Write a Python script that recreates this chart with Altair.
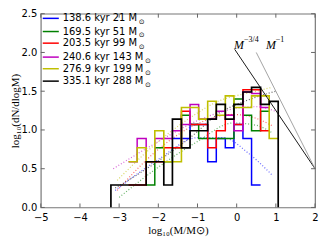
import altair as alt
import pandas as pd

# ---------------- data ----------------
edges = [-3.21, -2.99, -2.76, -2.54, -2.31, -2.09, -1.86, -1.64, -1.41, -1.19,
         -0.97, -0.74, -0.52, -0.29, -0.07, 0.16, 0.38, 0.61, 0.83, 1.06]

N = None
series = ["138.6 kyr 21 M", "169.5 kyr 51 M", "203.5 kyr 99 M",
          "240.6 kyr 143 M", "276.9 kyr 199 M", "335.1 kyr 288 M"]
colors = ["#0000ff", "#008000", "#ff0000", "#bf00bf", "#bfbf00", "#000000"]
widths = [1.5, 1.5, 1.5, 1.5, 1.6, 1.7]

blue = [N, N, N, N, N, N, N, 0.89, 0.89, 1.07, 1.07, 0.59, 0.89, 0.77, 1.07, 0.89, 0.29, N, N]
green = [N, N, N, N, 0.29, 0.77, 0.59, 0.77, 1.19, 1.07, 0.89, 0.89, 0.89, 0.89, 1.40, 1.19, 0.99, 1.24, N]
red = [N, N, 0.29, 0.29, 0.59, 0.59, 0.77, 0.77, 1.24, 1.07, 1.07, 0.77, 0.99, 1.19, 1.07, 1.52, 1.52, 0.99, N]
magenta = [N, N, 0.59, 0.89, 0.59, 0.89, 0.89, 0.99, 1.07, 1.33, 1.14, 1.14, 1.24, 1.19, 0.99, 1.49, 1.47, 1.29, N]
yellow = [N, N, 0.59, 0.77, 0.59, 0.99, 0.59, 0.59, 1.29, 1.29, 1.14, 1.37, 1.19, 1.44, 1.29, 1.29, 1.44, 1.44, 0.89]
black = [0.29, 0.29, 0.29, 0.29, 0.59, 0.59, 0.29, 1.14, 0.77, 0.99, 0.99, 1.14, 1.33, 1.14, 1.33, 1.49, 1.55, 1.33, 1.37]
hists = [blue, green, red, magenta, yellow, black]

fit_x = [
    [-3.10, -2.00, -1.00, -0.34, 0.30, 0.92],
    [-3.00, -2.00, -1.00, -0.09, 0.50, 0.92],
    [-3.05, -2.00, -1.00, -0.09, 0.50, 0.92],
    [-3.15, -2.00, -1.00, 0.00, 0.50, 1.00],
    [-3.05, -2.00, -1.00, -0.60, 0.50, 0.90],
    [-3.10, -2.00, -1.00, -0.60, 0.42, 1.00],
]
fit_y = [
    [0.22, 0.62, 0.90, 0.90, 0.70, 0.41],
    [0.13, 0.52, 0.85, 1.09, 1.06, 0.96],
    [0.22, 0.75, 1.08, 1.20, 1.15, 1.05],
    [0.50, 0.85, 1.12, 1.28, 1.30, 1.24],
    [0.35, 0.85, 1.22, 1.34, 1.50, 1.55],
    [0.25, 0.60, 0.98, 1.16, 1.41, 1.50],
]

pl34_x = [-0.05, 2.0]
pl34_y = [2.04, 0.50]
pl1_x = [0.50, 2.0]
pl1_y = [2.00, 0.50]

x_ticks = [-5, -4, -3, -2, -1, 0, 1, 2]
y_ticks = [0.0, 0.5, 1.0, 1.5, 2.0, 2.5]

legend_v = [2.44, 2.27, 2.12, 1.94, 1.79, 1.63]
legend_sun_m = [-2.50, -2.50, -2.50, -2.34, -2.34, -2.34]

# ---------------- build tables ----------------
rows = []
for s, vals in zip(series, hists):
    i = 0
    is_black = s.startswith("335")
    if is_black:
        rows.append(dict(s=s, m=edges[0], v=0.0, i=i)); i += 1
    for k, val in enumerate(vals):
        if val is None:
            continue
        rows.append(dict(s=s, m=edges[k], v=val, i=i)); i += 1
        if k + 1 == len(vals) or vals[k + 1] is None:
            rows.append(dict(s=s, m=edges[k + 1], v=val, i=i)); i += 1
            if is_black and k + 1 == len(vals):
                rows.append(dict(s=s, m=edges[k + 1], v=0.0, i=i)); i += 1
            rows.append(dict(s=s, m=edges[k + 1], v=None, i=i)); i += 1
hist_df = pd.DataFrame(rows)

fit_rows = []
for s, xs, ys in zip(series, fit_x, fit_y):
    for j, (a, b) in enumerate(zip(xs, ys)):
        fit_rows.append(dict(s=s, m=a, v=b, i=j))
fit_df = pd.DataFrame(fit_rows)

pl_df = pd.DataFrame(
    [dict(s="34", m=a, v=b) for a, b in zip(pl34_x, pl34_y)]
    + [dict(s="1", m=a, v=b) for a, b in zip(pl1_x, pl1_y)]
)

leg_df = pd.DataFrame(dict(s=series, v=legend_v, m=[-4.95] * 6, m2=[-4.54] * 6,
                           mt=[-4.44] * 6, ms=legend_sun_m))

xt_df = pd.DataFrame(dict(m=x_ticks))
yt_df = pd.DataFrame(dict(v=y_ticks))

# ---------------- encodings ----------------
xscale = alt.Scale(domain=[-5, 2], nice=False, zero=False)
yscale = alt.Scale(domain=[0, 2.5], nice=False, zero=False)
xaxis = alt.Axis(values=x_ticks, format="d", tickSize=0, domain=False, grid=False,
                 labelFont="DejaVu Sans", labelFontSize=10, labelColor="black",
                 labelPadding=5, labelFlush=False, labelOverlap=False,
                 title="log₁₀(M/M⊙)", titleFont="Liberation Serif", titleFontSize=11,
                 titleFontWeight="normal", titleColor="black", titlePadding=2)
yaxis = alt.Axis(values=y_ticks, format=".1f", tickSize=0, domain=False, grid=False,
                 labelFont="DejaVu Sans", labelFontSize=10, labelColor="black",
                 labelPadding=4, labelFlush=False, labelOverlap=False,
                 title="log₁₀(dN/dlogM)", titleFont="Liberation Serif", titleFontSize=11,
                 titleFontWeight="normal", titleColor="black", titlePadding=1)

X = alt.X("m:Q", scale=xscale, axis=xaxis)
Y = alt.Y("v:Q", scale=yscale, axis=yaxis)
cscale = alt.Scale(domain=series, range=colors)
C = alt.Color("s:N", scale=cscale, legend=None)

fits = alt.Chart(fit_df).mark_line(interpolate="monotone", strokeDash=[1, 2],
                                   strokeWidth=1.2, opacity=0.6, clip=True).encode(
    x=X, y=Y, color=C, detail="s:N", order="i:Q")

hist_layers = []
for s, w in zip(series, widths):
    hist_layers.append(
        alt.Chart(hist_df[hist_df.s == s]).mark_line(
            interpolate="step-after", strokeWidth=w, clip=True).encode(
            x=X, y=Y, color=C, order="i:Q"))

pl34 = alt.Chart(pl_df[pl_df.s == "34"]).mark_line(color="black", strokeWidth=0.9).encode(x=X, y=Y)
pl1 = alt.Chart(pl_df[pl_df.s == "1"]).mark_line(color="#999999", strokeWidth=0.9).encode(x=X, y=Y)

lab_df = pd.DataFrame(dict(m=[-0.07, 0.75], v=[2.04, 2.04], t=["M", "M"]))
sup_df = pd.DataFrame(dict(m=[0.19, 1.0], v=[2.13, 2.13], t=["−3/4", "−1"]))
labs = alt.Chart(lab_df).mark_text(font="Liberation Serif", fontStyle="italic", fontSize=12,
                                   align="left", baseline="alphabetic", color="black").encode(
    x=X, y=Y, text="t:N")
sups = alt.Chart(sup_df).mark_text(font="Liberation Serif", fontSize=8,
                                   align="left", baseline="alphabetic", color="black").encode(
    x=X, y=Y, text="t:N")

leg_lines = alt.Chart(leg_df).mark_rule(strokeWidth=1.5).encode(
    x=X, x2="m2:Q", y=Y, color=C)
leg_text = alt.Chart(leg_df).mark_text(font="DejaVu Sans", fontSize=10, align="left",
                                       baseline="middle", color="black").encode(
    x=alt.X("mt:Q", scale=xscale, axis=xaxis), y=Y, text="s:N")
leg_sun = alt.Chart(leg_df).mark_text(font="DejaVu Sans", fontSize=7, align="left",
                                      baseline="middle", dy=4, color="black").encode(
    x=alt.X("ms:Q", scale=xscale, axis=xaxis), y=Y, text=alt.value("⊙"))

tick_col = "#666666"
xt_b = alt.Chart(xt_df).mark_rule(color=tick_col).encode(x=X, y=alt.value(195), y2=alt.value(191))
xt_t = alt.Chart(xt_df).mark_rule(color=tick_col).encode(x=X, y=alt.value(0), y2=alt.value(4))
yt_l = alt.Chart(yt_df).mark_rule(color=tick_col).encode(y=Y, x=alt.value(0), x2=alt.value(4))
yt_r = alt.Chart(yt_df).mark_rule(color=tick_col).encode(y=Y, x=alt.value(276), x2=alt.value(272))

chart = alt.layer(
    fits, *hist_layers, pl34, pl1, labs, sups, leg_lines, leg_text, leg_sun,
    xt_b, xt_t, yt_l, yt_r
).properties(
    width=276, height=195,
    autosize=alt.AutoSizeParams(type="none"),
    padding={"left": 33, "top": 5, "right": 4, "bottom": 31},
).configure_view(stroke="#777777", strokeWidth=1.2)

chart.save("out.html", embed_options={"renderer": "svg", "actions": False})
